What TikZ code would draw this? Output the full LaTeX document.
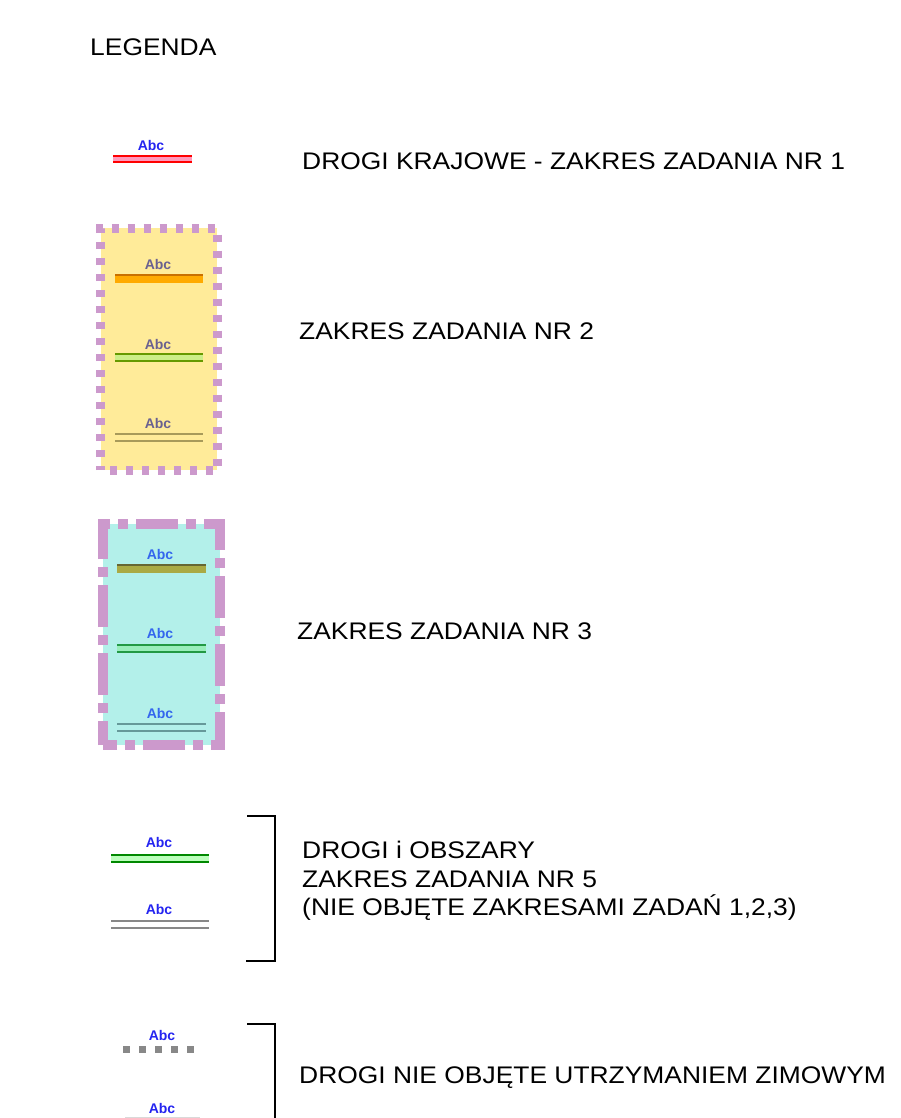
\documentclass[tikz,border=0pt]{standalone}
\usepackage{fontspec}
\setmainfont{Liberation Sans}
\definecolor{abcblue}{HTML}{2424F0}
\definecolor{abcgrey}{HTML}{6A6190}
\definecolor{abccyan}{HTML}{3366EE}
\definecolor{lilac}{HTML}{CC99CC}
\definecolor{paleyellow}{HTML}{FFEB99}
\definecolor{palecyan}{HTML}{B3F0EA}
\definecolor{roadpink}{HTML}{FF99BB}
\definecolor{darkorange}{HTML}{C87000}
\definecolor{roadorange}{HTML}{FFAA00}
\definecolor{leafgreen}{HTML}{669900}
\definecolor{leaflight}{HTML}{CCEE88}
\definecolor{khaki}{HTML}{A89A5A}
\definecolor{olivedark}{HTML}{666633}
\definecolor{olive}{HTML}{AAAA44}
\definecolor{seagreen}{HTML}{229944}
\definecolor{sealight}{HTML}{99EEBB}
\definecolor{tealgrey}{HTML}{669999}
\definecolor{darkgreen}{HTML}{008800}
\definecolor{mintgreen}{HTML}{BBFFBB}
\definecolor{roadgrey}{HTML}{888888}
\begin{document}
\begin{tikzpicture}[x=1pt,y=-1pt,
    txt/.style={anchor=base west,inner sep=0pt,font=\fontsize{24}{29}\selectfont,xscale=1.1},
    abc/.style={anchor=base,inner sep=0pt,font=\fontsize{14}{14}\selectfont\bfseries,text=abcblue},
    twin/.style={line width=2,double distance=5}]
    \useasboundingbox (0,0) rectangle (900,1118);

    \node[txt] (title) at (90,56) {LEGENDA};

    % zadanie 1
    \node[abc] (abc1) at (151,151) {Abc};
    \draw[twin,draw=red,double=roadpink,double distance=4] (113,159) -- (192,159);
    \node[txt] (zad1) at (302,170) {DROGI KRAJOWE - ZAKRES ZADANIA NR 1};

    % zadanie 2
    \fill[paleyellow] (100.5,228) rectangle (217,470);
    \draw[lilac,line width=9,dash pattern=on 7 off 9,dash phase=3] (100.5,470) -- (100.5,228) -- (217,228) -- (217,470) -- cycle;
    \node[abc,text=abcgrey] (abc21) at (158,269) {Abc};
    \fill[roadorange] (115,274) rectangle (203,283);
    \draw[darkorange,line width=2] (115,275) -- (203,275);
    \node[abc,text=abcgrey] (abc22) at (158,349) {Abc};
    \draw[twin,draw=leafgreen,double=leaflight] (115,357.5) -- (203,357.5);
    \node[abc,text=abcgrey] (abc23) at (158,428) {Abc};
    \draw[khaki,line width=2] (115,434) -- (203,434);
    \draw[khaki,line width=2] (115,441) -- (203,441);
    \node[txt] (zad2) at (299,339) {ZAKRES ZADANIA NR 2};

    % zadanie 3
    \fill[palecyan] (103,524) rectangle (220,745);
    \draw[lilac,line width=10,dash pattern=on 42 off 8 on 10 off 8,dash phase=18] (103,745) -- (103,524) -- (220,524) -- (220,745) -- cycle;
    \node[abc,text=abccyan] (abc31) at (160,559) {Abc};
    \fill[olive] (117,564) rectangle (206,573);
    \draw[olivedark,line width=2] (117,565) -- (206,565);
    \node[abc,text=abccyan] (abc32) at (160,638) {Abc};
    \draw[twin,draw=seagreen,double=sealight] (117,648) -- (206,648);
    \node[abc,text=abccyan] (abc33) at (160,718) {Abc};
    \draw[tealgrey,line width=2] (117,724) -- (206,724);
    \draw[tealgrey,line width=2] (117,731) -- (206,731);
    \node[txt] (zad3) at (297,639) {ZAKRES ZADANIA NR 3};

    % zadanie 5
    \node[abc] (abc51) at (159,847) {Abc};
    \draw[twin,draw=darkgreen,double=mintgreen] (111,858) -- (209,858);
    \node[abc] (abc52) at (159,914) {Abc};
    \draw[roadgrey,line width=2] (111,921) -- (209,921);
    \draw[roadgrey,line width=2] (111,928) -- (209,928);
    \draw[line width=2] (247,816) -- (275,816) -- (275,961) -- (246,961);
    \node[txt] (zad5a) at (302,858) {DROGI i OBSZARY};
    \node[txt] (zad5b) at (302,887) {ZAKRES ZADANIA NR 5};
    \node[txt] (zad5c) at (302,915) {(NIE OBJĘTE ZAKRESAMI ZADAŃ 1,2,3)};

    % bez utrzymania zimowego
    \node[abc] (abc61) at (162,1040) {Abc};
    \draw[roadgrey,line width=7,dash pattern=on 7 off 9] (123,1049) -- (196,1049);
    \node[abc] (abc62) at (162,1113) {Abc};
    \draw[black!15,line width=1] (125,1117.5) -- (200,1117.5);
    \draw[line width=2] (247,1024) -- (275,1024) -- (275,1118);
    \node[txt] (zad6) at (299,1083) {DROGI NIE OBJĘTE UTRZYMANIEM ZIMOWYM};
\end{tikzpicture}
\end{document}
